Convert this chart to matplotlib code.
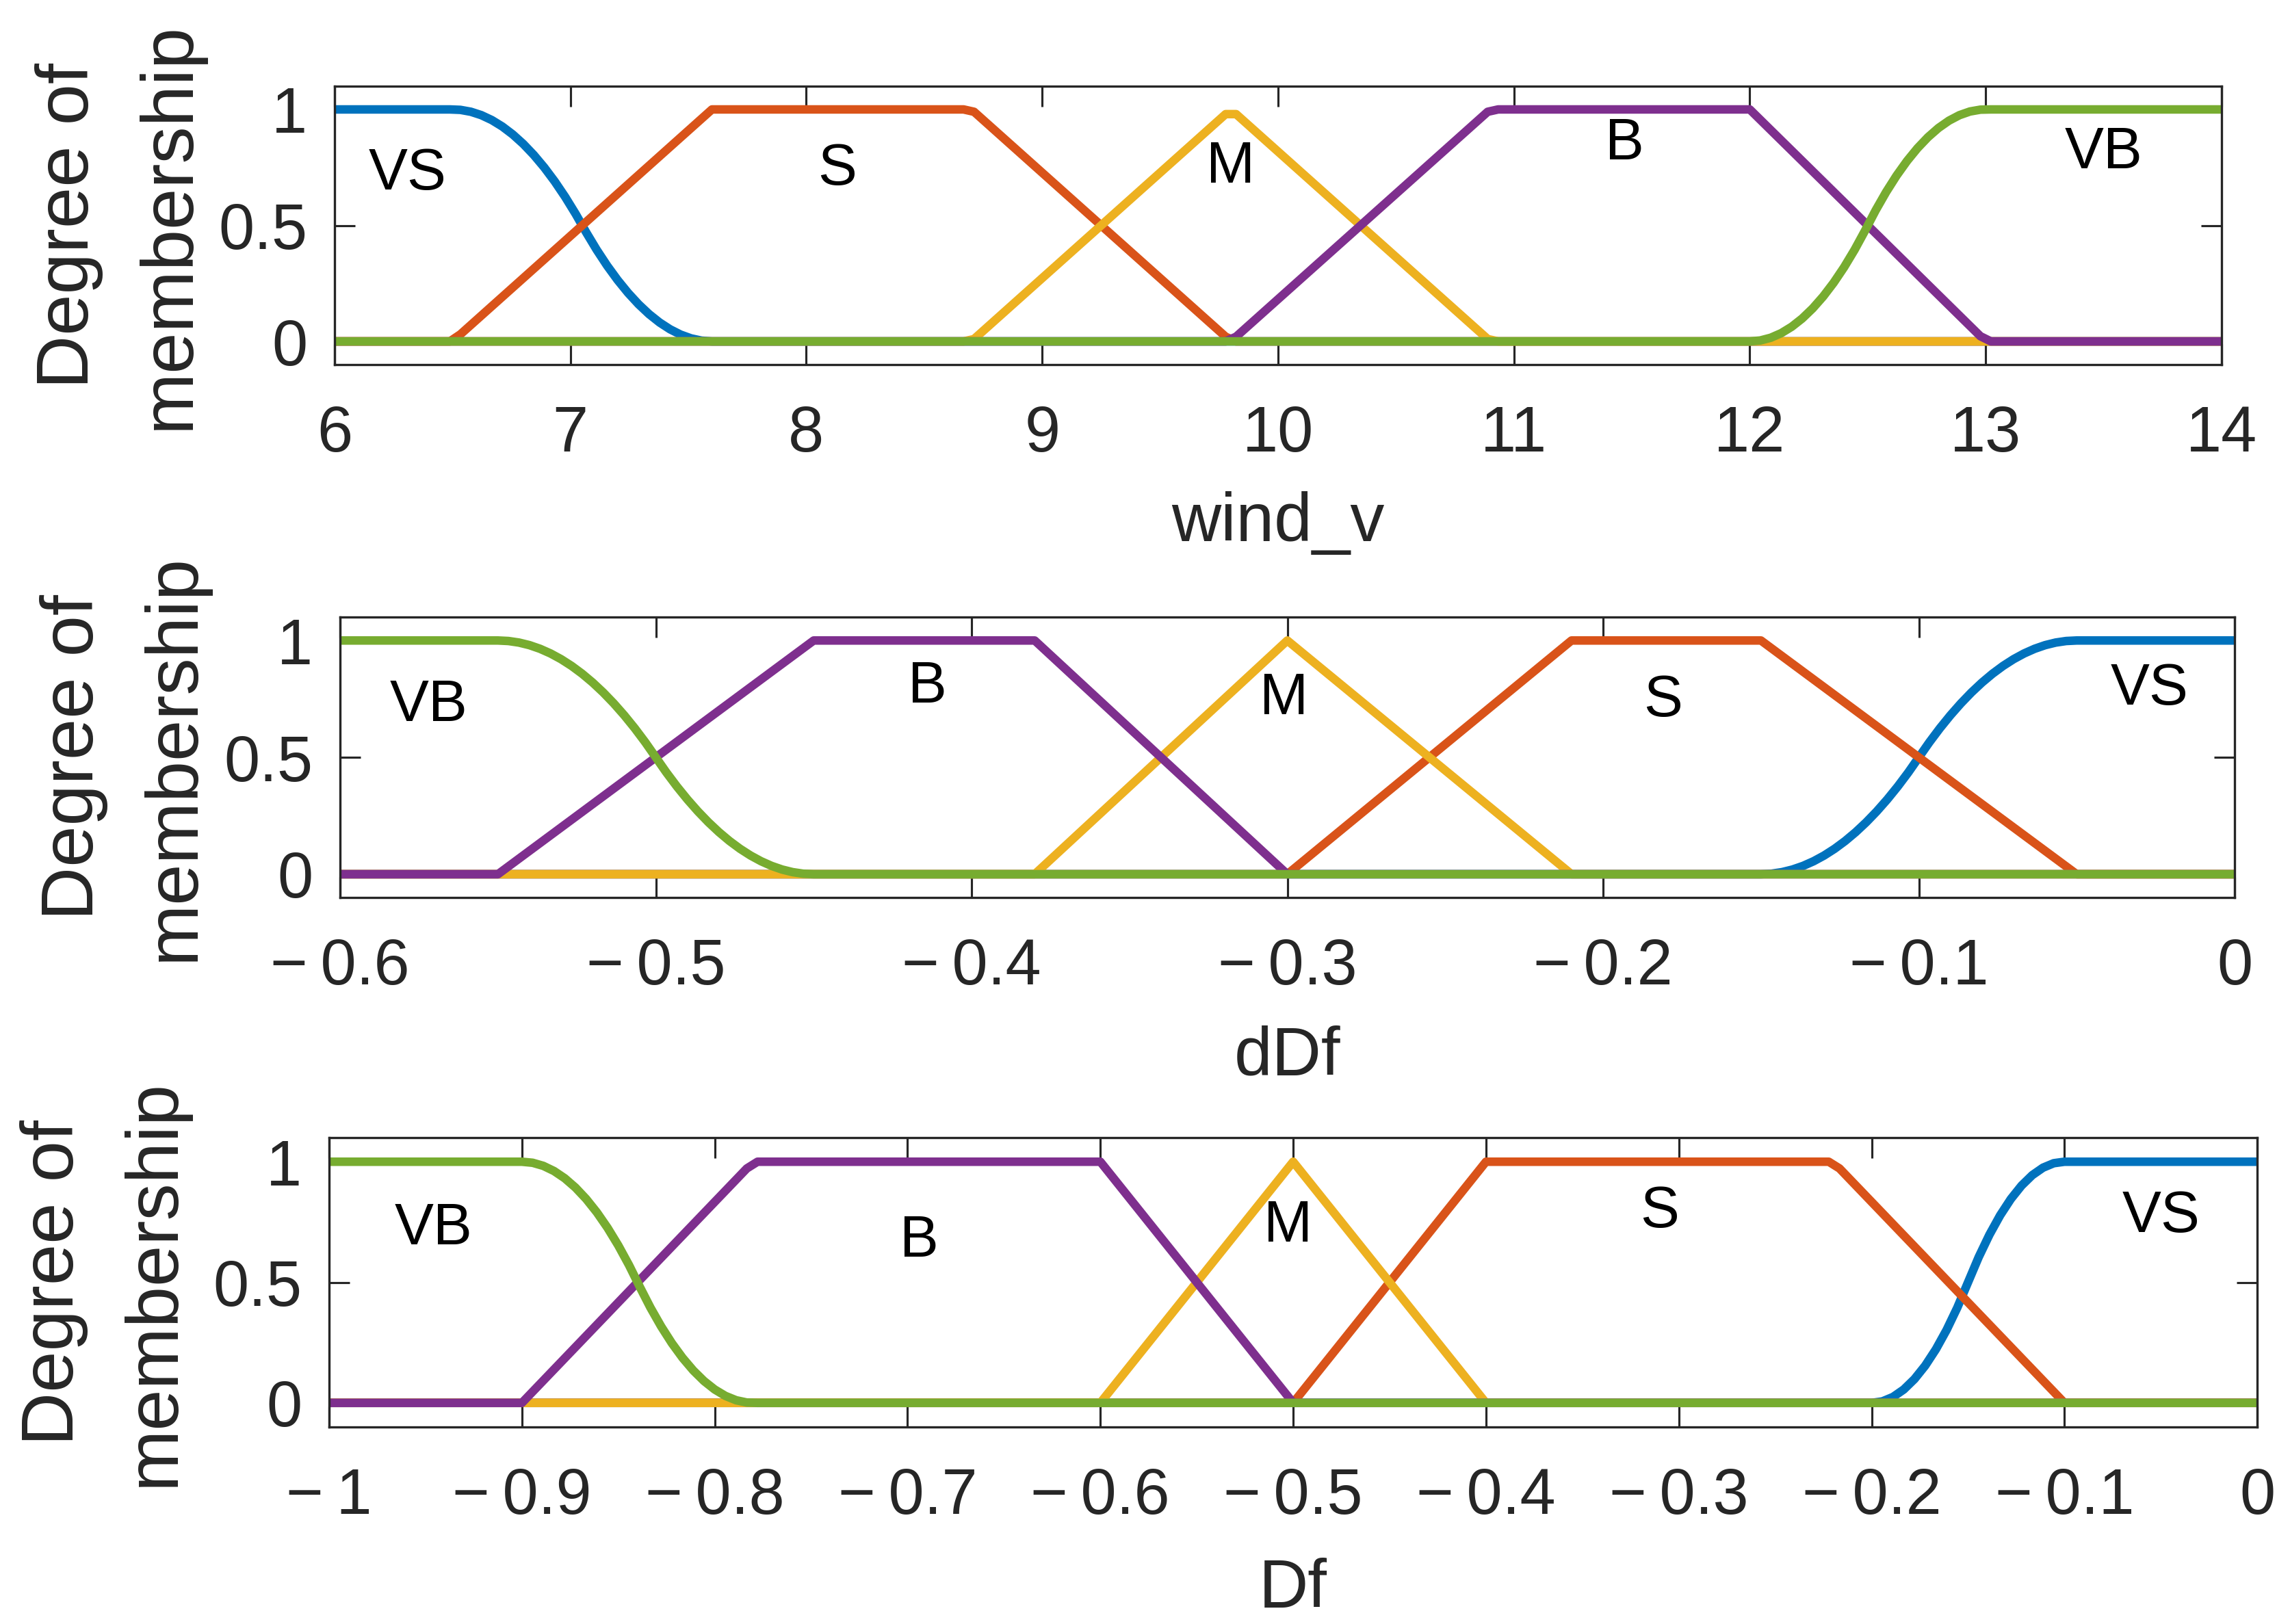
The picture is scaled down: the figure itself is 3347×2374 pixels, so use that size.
import numpy as np
import matplotlib.pyplot as plt

plt.rcParams['font.family'] = ['Liberation Sans', 'DejaVu Sans']

# MATLAB default colour order, one colour per membership function
mf_colors = ['#0072BD', '#D95319', '#EDB120', '#7E2F8E', '#77AC30']
mf_names = ['VS', 'S', 'M', 'B', 'VB']

# wind_v : VS zmf, S trapmf, M trimf, B trapmf, VB smf
wind_range = [6, 14]
wind_vs = [6.5, 7.6]
wind_s = [6.5, 7.6, 8.7, 9.8]
wind_m = [8.7, 9.8, 10.9]
wind_b = [9.8, 10.9, 12.0, 13.0]
wind_vb = [12.0, 13.0]
wind_ticks = [6, 7, 8, 9, 10, 11, 12, 13, 14]
wind_text_x = [6.31, 8.13, 9.80, 11.47, 13.50]
wind_text_y = [0.72, 0.74, 0.75, 0.85, 0.81]

# dDf : VS smf, S trapmf, M trimf, B trapmf, VB zmf
ddf_range = [-0.6, 0]
ddf_vs = [-0.15, -0.05]
ddf_s = [-0.30, -0.21, -0.15, -0.05]
ddf_m = [-0.38, -0.30, -0.21]
ddf_b = [-0.55, -0.45, -0.38, -0.30]
ddf_vb = [-0.55, -0.45]
ddf_ticks = [-0.6, -0.5, -0.4, -0.3, -0.2, -0.1, 0]
ddf_text_x = [-0.027, -0.181, -0.301, -0.414, -0.572]
ddf_text_y = [0.79, 0.74, 0.75, 0.80, 0.72]

# Df : VS smf, S trapmf, M trimf, B trapmf, VB zmf
df_range = [-1, 0]
df_vs = [-0.20, -0.10]
df_s = [-0.50, -0.40, -0.22, -0.10]
df_m = [-0.60, -0.50, -0.40]
df_b = [-0.90, -0.78, -0.60, -0.50]
df_vb = [-0.90, -0.78]
df_ticks = [-1, -0.9, -0.8, -0.7, -0.6, -0.5, -0.4, -0.3, -0.2, -0.1, 0]
df_text_x = [-0.050, -0.310, -0.5025, -0.694, -0.946]
df_text_y = [0.77, 0.79, 0.73, 0.67, 0.72]


def smf(x, p):
    a, b = p
    m = (a + b) / 2
    y = np.where(x >= b, 1.0, 0.0)
    lo = (x > a) & (x <= m)
    hi = (x > m) & (x < b)
    y[lo] = 2 * ((x[lo] - a) / (b - a)) ** 2
    y[hi] = 1 - 2 * ((x[hi] - b) / (b - a)) ** 2
    return y


def zmf(x, p):
    return 1 - smf(x, p)


def trapmf(x, p):
    return np.interp(x, p, [0, 1, 1, 0])


def trimf(x, p):
    return np.interp(x, p, [0, 1, 0])


def tick_txt(v):
    if v == 0:
        return '0'
    if v < 0:
        return '\u2212\u2009' + f'{abs(v):g}'
    return f'{v:g}'


fig = plt.figure(figsize=(3347 / 300, 2374 / 300), dpi=300)

panels = [
    dict(pos=[0.1461, 0.7755, 0.8240, 0.1714], rng=wind_range, ticks=wind_ticks, label='wind_v',
         params=[('z', wind_vs), ('trap', wind_s), ('tri', wind_m), ('trap', wind_b), ('s', wind_vb)],
         tx=wind_text_x, ty=wind_text_y, ylab_x=-0.0693, xlab_y=-0.455),
    dict(pos=[0.1485, 0.4473, 0.8273, 0.1727], rng=ddf_range, ticks=ddf_ticks, label='dDf',
         params=[('s', ddf_vs), ('trap', ddf_s), ('tri', ddf_m), ('trap', ddf_b), ('z', ddf_vb)],
         tx=ddf_text_x, ty=ddf_text_y, ylab_x=-0.0693, xlab_y=-0.454),
    dict(pos=[0.1437, 0.1213, 0.8420, 0.1782], rng=df_range, ticks=df_ticks, label='Df',
         params=[('s', df_vs), ('trap', df_s), ('tri', df_m), ('trap', df_b), ('z', df_vb)],
         tx=df_text_x, ty=df_text_y, ylab_x=-0.0727, xlab_y=-0.452),
]

funcs = {'s': smf, 'z': zmf, 'trap': trapmf, 'tri': trimf}

for pnl in panels:
    ax = fig.add_axes(pnl['pos'])
    x = np.linspace(pnl['rng'][0], pnl['rng'][1], 181)
    for (kind, p), c in zip(pnl['params'], mf_colors):
        ax.plot(x, funcs[kind](x, p), color=c, lw=3.0, solid_capstyle='butt')
    for name, tx, ty in zip(mf_names, pnl['tx'], pnl['ty']):
        ax.text(tx, ty, name, ha='center', va='center', fontsize=20.5, color='black')

    ax.set_xlim(pnl['rng'])
    ax.set_ylim(-0.1, 1.1)
    ax.set_xticks(pnl['ticks'])
    ax.set_xticklabels([tick_txt(v) for v in pnl['ticks']])
    ax.set_yticks([0, 0.5, 1])
    ax.set_yticklabels(['0', '0.5', '1'])
    ax.tick_params(direction='in', length=7.2, width=0.75, top=True, right=True,
                   labelsize=22.5, colors='#262626')
    ax.tick_params(axis='x', pad=14)
    ax.tick_params(axis='y', pad=9.5)
    for s in ax.spines.values():
        s.set_linewidth(0.8)
        s.set_color('#262626')

    ax.set_xlabel(pnl['label'], fontsize=24, color='#262626')
    ax.xaxis.set_label_coords(0.5, pnl['xlab_y'])
    ax.set_ylabel('Degree of\nmembership', fontsize=26, color='#262626', linespacing=1.6)
    ax.yaxis.set_label_coords(pnl['ylab_x'], 0.5)

fig.savefig('out.png', dpi=300)
